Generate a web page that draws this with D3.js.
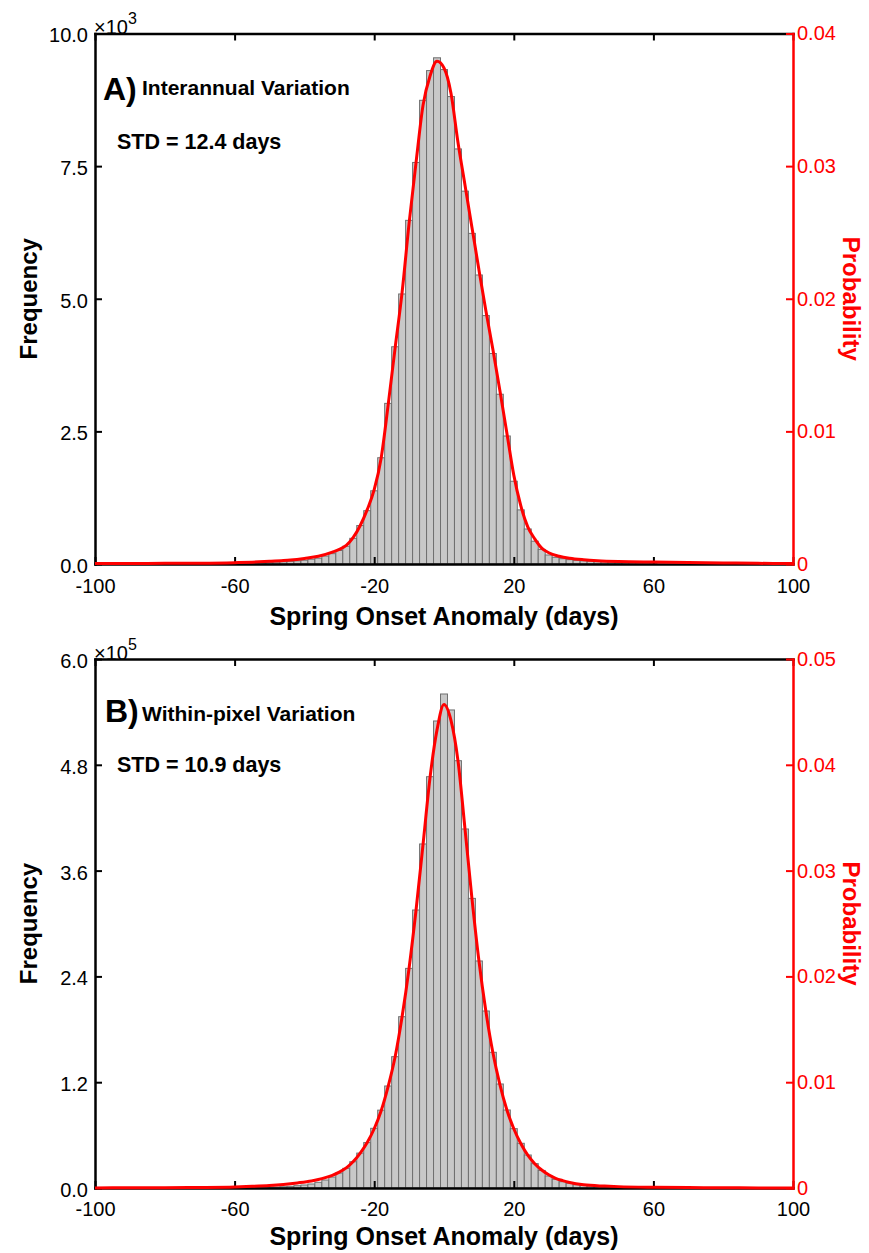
<!DOCTYPE html>
<html>
<head>
<meta charset="utf-8">
<script src="https://cdn.jsdelivr.net/npm/d3@7"></script>
<style>
  body { margin: 0; background: #fff; }
  text { font-family: "Liberation Sans", Arial, Helvetica, sans-serif; }
</style>
</head>
<body>
<svg id="fig" width="869" height="1253"></svg>
<script>
// ---- data -------------------------------------------------------------
const binWidth = 2;
const xTicks = [-100, -60, -20, 20, 60, 100];

// histogram bin centres (days)
const binCenters = [-60,-58,-56,-54,-52,-50,-48,-46,-44,-42,-40,-38,-36,-34,-32,-30,-28,-26,-24,-22,
  -20,-18,-16,-14,-12,-10,-8,-6,-4,-2,0,2,4,6,8,10,12,14,16,18,20,22,24,26,28,30,32,34,36,38,40,
  42,44,46,48,50,52,54,56,58,60];

// A) interannual variation: counts per bin
const freqA = [14,16,18,22,26,30,36,42,50,60,72,90,110,150,195,255,335,484,725,1005,
  1380,2003,3028,4095,5090,6478,7569,8741,9301,9542,9320,8811,7824,7028,6232,5448,4683,3968,3200,2413,1560,
  1020,660,430,275,170,126,100,82,69,60,52,45,40,36,32,30,28,26,25,24];

// B) within-pixel variation: counts per bin
const freqB = [300,380,480,600,750,900,1100,1400,1900,2600,3400,4540,6460,9070,12400,17000,22300,29800,39600,51500,
  67700,88300,115700,148950,194300,249100,315300,390200,466500,529700,560300,542200,484650,407200,328500,257500,
  200750,153900,117960,88470,67300,50700,37430,27600,19900,13600,9870,7150,5330,3750,3060,2200,1600,1250,1000,
  800,650,520,420,340,280];

// probability density curves
const curveDaysA = [-100,-90,-80,-70,-60,-55,-50,-46,-44,-40,-36,-32,-30,-28,-26,-24,-22,-20,-18,-16,-14,-12,-10,
  -8,-6,-4,-2,0,2,4,6,8,10,12,14,16,18,20,22,24,26,28,30,33,36,40,44,50,60,70,80,90,100];
const curveProbA = [0.00003,0.00004,0.00005,0.00006,0.0001,0.00014,0.0002,0.00026,0.0003,0.00042,0.00058,0.0009,0.0011,
  0.0014,0.002,0.0029,0.0041,0.0056,0.008,0.012,0.0163,0.0205,0.0257,0.0303,0.0346,0.0368,0.0379,0.0374,0.0355,
  0.0318,0.0286,0.0254,0.0222,0.0191,0.0162,0.0131,0.0099,0.0067,0.0044,0.0028,0.0019,0.0012,0.00085,0.00058,
  0.00043,0.00032,0.00025,0.00019,0.00015,0.00012,0.00008,0.00005,0.00003];

const curveDaysB = [-100,-90,-80,-70,-60,-55,-50,-46,-42,-38,-36,-34,-32,-30,-28,-26,-24,-22,-20,-18,-16,-14,-12,
  -10,-8,-6,-4,-2,0,2,4,6,8,10,12,14,16,18,20,22,24,26,28,30,32,34,36,40,46,50,60,70,80,90,100];
const curveProbB = [0.00001,0.00002,0.00003,0.00005,0.0001,0.00016,0.00024,0.00034,0.00048,0.00066,0.0008,0.00098,
  0.0012,0.0015,0.0019,0.0025,0.0033,0.0043,0.0056,0.0073,0.0096,0.0124,0.0162,0.0208,0.0263,0.0325,0.0388,0.0433,
  0.0457,0.0442,0.0404,0.034,0.0274,0.0215,0.0167,0.0128,0.0098,0.0074,0.0056,0.0042,0.0031,0.0023,0.0017,0.00125,
  0.00092,0.0007,0.00052,0.0003,0.00018,0.00013,0.00007,0.00004,0.00002,0.00001,0.00001];

// axis ticks
const freqTicksA = [0, 2500, 5000, 7500, 10000];
const freqLabelsA = ["0.0", "2.5", "5.0", "7.5", "10.0"];
const probTicksA = [0, 0.01, 0.02, 0.03, 0.04];
const probLabelsA = ["0", "0.01", "0.02", "0.03", "0.04"];
const freqTicksB = [0, 120000, 240000, 360000, 480000, 600000];
const freqLabelsB = ["0.0", "1.2", "2.4", "3.6", "4.8", "6.0"];
const probTicksB = [0, 0.01, 0.02, 0.03, 0.04, 0.05];
const probLabelsB = ["0", "0.01", "0.02", "0.03", "0.04", "0.05"];

// ---- drawing ----------------------------------------------------------
const svg = d3.select("#fig");
const plotLeft = 95, plotRight = 793;
const x = d3.scaleLinear().domain([-100, 100]).range([plotLeft, plotRight]);
const defs = svg.append("defs");

function styleAxis(g, color, fontSize) {
  g.attr("font-family", null).attr("font-size", null);
  g.select(".domain").attr("stroke", color).attr("stroke-width", 2.5).attr("stroke-linecap", "square");
  g.selectAll(".tick line").attr("stroke", color).attr("stroke-width", 2);
  g.selectAll(".tick text").attr("fill", color).style("font-size", fontSize + "px");
}

function drawPanel(p) {
  const g = svg.append("g");
  const yF = d3.scaleLinear().domain([0, p.freqMax]).range([p.bottom, p.top]);
  const yP = d3.scaleLinear().domain([0, p.probMax]).range([p.bottom, p.top]);

  defs.append("clipPath").attr("id", "clip" + p.key).append("rect")
    .attr("x", plotLeft).attr("y", p.top)
    .attr("width", plotRight - plotLeft).attr("height", p.bottom - p.top);

  // histogram
  g.append("g").attr("clip-path", `url(#clip${p.key})`)
    .selectAll("rect")
    .data(binCenters.map((c, i) => ({ c, v: p.freq[i] })))
    .join("rect")
    .attr("x", d => x(d.c - binWidth / 2))
    .attr("width", d => x(d.c + binWidth / 2) - x(d.c - binWidth / 2))
    .attr("y", d => yF(d.v))
    .attr("height", d => yF(0) - yF(d.v))
    .attr("fill", "#c8c8c8")
    .attr("stroke", "#6f6f6f")
    .attr("stroke-width", 1);

  // frame and black axes
  const axL = g.append("g").attr("transform", `translate(${plotLeft},0)`)
    .call(d3.axisLeft(yF).tickValues(p.freqTicks).tickFormat((d, i) => p.freqLabels[i])
      .tickSizeInner(-7).tickSizeOuter(0).tickPadding(7));
  styleAxis(axL, "#000", 20);
  axL.selectAll(".tick text").attr("dy", "0.42em");

  const axB = g.append("g").attr("transform", `translate(0,${p.bottom})`)
    .call(d3.axisBottom(x).tickValues(xTicks).tickFormat(d3.format("d"))
      .tickSizeInner(-7).tickSizeOuter(0).tickPadding(p.xPad));
  styleAxis(axB, "#000", 20);
  axB.selectAll(".tick text").text(d => String(d));

  const axT = g.append("g").attr("transform", `translate(0,${p.top})`)
    .call(d3.axisTop(x).tickValues(xTicks).tickFormat("").tickSizeInner(-7).tickSizeOuter(0));
  styleAxis(axT, "#000", 20);

  // density curve
  const line = d3.line()
    .x((d, i) => x(p.curveDays[i]))
    .y(d => yP(d))
    .curve(d3.curveMonotoneX);
  g.append("path")
    .attr("d", line(p.curveProb))
    .attr("fill", "none")
    .attr("stroke", "#ff0000")
    .attr("stroke-width", 3)
    .attr("stroke-linejoin", "round");

  // red probability axis
  const axR = g.append("g").attr("transform", `translate(${plotRight},0)`)
    .call(d3.axisRight(yP).tickValues(p.probTicks).tickFormat((d, i) => p.probLabels[i])
      .tickSizeInner(-7).tickSizeOuter(0).tickPadding(4));
  styleAxis(axR, "#ff0000", 20);
  axR.selectAll(".tick text").attr("dy", "0.32em");

  // scale exponent
  const ex = g.append("text").attr("x", plotLeft - 1).attr("y", p.top + 0.5)
    .style("font-size", "20px").attr("fill", "#000");
  ex.append("tspan").text("×10");
  ex.append("tspan").attr("dy", -10).style("font-size", "16px").text(p.exponent);

  // axis titles
  g.append("text")
    .attr("transform", `translate(37,${(p.top + p.bottom) / 2}) rotate(-90)`)
    .attr("text-anchor", "middle").style("font-size", "24px").style("font-weight", "bold")
    .text("Frequency");
  g.append("text")
    .attr("transform", `translate(843,${(p.top + p.bottom) / 2}) rotate(90)`)
    .attr("text-anchor", "middle").style("font-size", "24px").style("font-weight", "bold")
    .attr("fill", "#ff0000")
    .text("Probability");
  g.append("text")
    .attr("x", (plotLeft + plotRight) / 2).attr("y", p.bottom + p.titleOffset)
    .attr("text-anchor", "middle").style("font-size", "25px").style("font-weight", "bold")
    .text("Spring Onset Anomaly (days)");

  // panel annotations
  g.append("text").attr("x", p.letterX).attr("y", p.top + p.letterY)
    .style("font-size", "32px").style("font-weight", "bold").text(p.letter);
  g.append("text").attr("x", 142).attr("y", p.top + 61.5)
    .style("font-size", "21px").style("font-weight", "bold").text(p.title);
  g.append("text").attr("x", 117).attr("y", p.top + p.stdY)
    .style("font-size", "21.5px").style("font-weight", "bold").text(p.std);
}

drawPanel({
  key: "A", top: 33.5, bottom: 564, xPad: 15, titleOffset: 61,
  freq: freqA, freqMax: 10000, probMax: 0.04,
  freqTicks: freqTicksA, freqLabels: freqLabelsA,
  probTicks: probTicksA, probLabels: probLabelsA,
  curveDays: curveDaysA, curveProb: curveProbA,
  exponent: "3", letter: "A)", letterX: 103, letterY: 66.5,
  title: "Interannual Variation", std: "STD = 12.4 days", stdY: 115
});

drawPanel({
  key: "B", top: 659, bottom: 1188, xPad: 14, titleOffset: 57,
  freq: freqB, freqMax: 600000, probMax: 0.05,
  freqTicks: freqTicksB, freqLabels: freqLabelsB,
  probTicks: probTicksB, probLabels: probLabelsB,
  curveDays: curveDaysB, curveProb: curveProbB,
  exponent: "5", letter: "B)", letterX: 105, letterY: 63,
  title: "Within-pixel Variation", std: "STD = 10.9 days", stdY: 113
});
</script>
</body>
</html>
